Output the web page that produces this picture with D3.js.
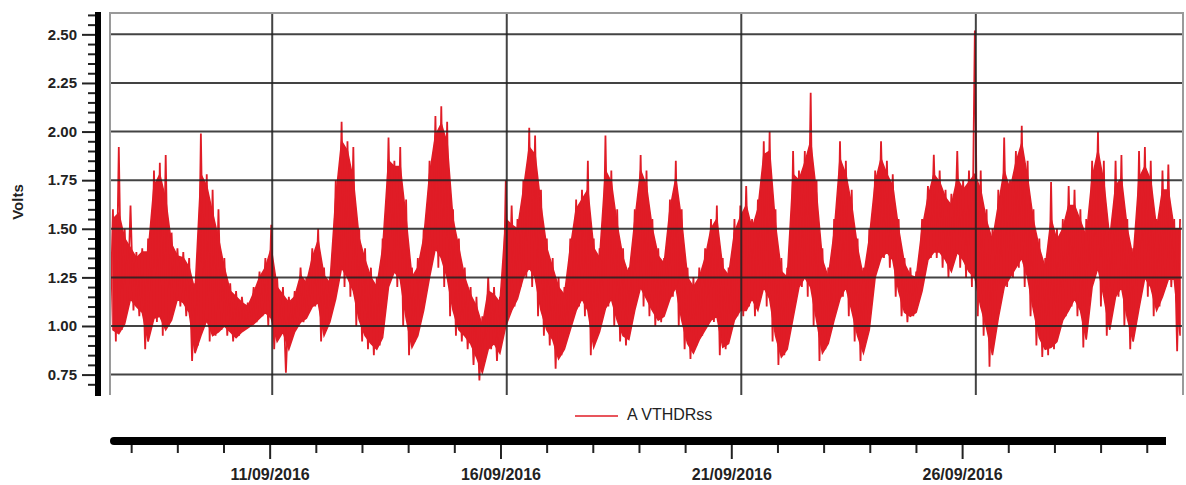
<!DOCTYPE html>
<html>
<head>
<meta charset="utf-8">
<script src="https://cdn.jsdelivr.net/npm/d3@7"></script>
<style>
  body { margin: 0; background: #fff; }
  svg { display: block; font-family: "Liberation Sans", Arial, sans-serif; }
</style>
</head>
<body>
<svg id="chart" width="1186" height="485"></svg>
<script>
// Time range shown on the chart
const startTime = new Date(2016, 8, 7, 13, 0);
const endTime = new Date(2016, 8, 30, 10, 0);
const stepHours = 3; // values are read per 3-hour block

// Peak value in each 3-hour block
const hiVals = [
  1.60, 1.92, 1.50, 1.62,                          // 07/09
  1.38, 1.40, 1.45, 1.80, 1.84, 1.88, 1.48, 1.40,  // 08/09
  1.38, 1.35, 1.22, 1.99, 1.78, 1.70, 1.60, 1.35,  // 09/09
  1.22, 1.18, 1.15, 1.12, 1.20, 1.28, 1.35, 1.52,  // 10/09
  1.25, 1.20, 1.15, 1.18, 1.30, 1.25, 1.40, 1.50,  // 11/09
  1.30, 1.25, 1.75, 2.05, 1.95, 1.92, 1.50, 1.40,  // 12/09
  1.30, 1.25, 1.45, 1.97, 1.85, 1.92, 1.65, 1.30,  // 13/09
  1.35, 1.50, 1.85, 2.08, 2.13, 2.05, 1.60, 1.45,  // 14/09
  1.30, 1.20, 1.15, 1.05, 1.25, 1.20, 1.15, 1.75,  // 15/09
  1.62, 1.55, 1.75, 2.02, 1.98, 1.70, 1.45, 1.35,  // 16/09
  1.25, 1.20, 1.45, 1.65, 1.70, 1.85, 1.45, 1.40,  // 17/09
  1.98, 1.80, 1.60, 1.40, 1.30, 1.60, 1.88, 1.80,  // 18/09
  1.55, 1.40, 1.35, 1.65, 1.85, 1.60, 1.30, 1.25,  // 19/09
  1.30, 1.40, 1.55, 1.62, 1.35, 1.30, 1.55, 1.62,  // 20/09
  1.72, 1.55, 1.65, 1.95, 2.00, 1.60, 1.35, 1.30,  // 21/09
  1.90, 1.80, 1.90, 2.20, 1.75, 1.40, 1.30, 1.55,  // 22/09
  1.95, 1.85, 1.70, 1.45, 1.30, 1.50, 1.80, 1.95,  // 23/09
  1.85, 1.78, 1.55, 1.35, 1.30, 1.28, 1.55, 1.72,  // 24/09
  1.88, 1.80, 1.70, 1.68, 1.90, 1.75, 1.80, 2.52,  // 25/09
  1.80, 1.60, 1.50, 1.70, 1.97, 1.75, 1.90, 2.03,  // 26/09
  1.85, 1.60, 1.45, 1.35, 1.74, 1.50, 1.55, 1.72,  // 27/09
  1.70, 1.60, 1.55, 1.85, 2.00, 1.85, 1.50, 1.85,  // 28/09
  1.88, 1.55, 1.40, 1.90, 1.92, 1.85, 1.55, 1.80,  // 29/09
  1.83, 1.55, 1.55                                 // 30/09
];

// Minimum value in each 3-hour block
const loVals = [
  0.95, 0.92, 0.98, 1.12,
  1.08, 1.05, 0.88, 1.00, 1.02, 0.95, 1.00, 1.12,
  1.10, 1.05, 0.82, 0.90, 1.00, 0.92, 0.95, 0.98,
  0.95, 0.92, 0.95, 0.98, 1.00, 1.02, 1.05, 1.00,
  0.88, 0.95, 0.76, 0.95, 1.00, 1.02, 1.08, 1.10,
  0.92, 1.00, 1.10, 1.25, 1.20, 1.15, 1.00, 0.92,
  0.88, 0.85, 0.90, 1.15, 1.25, 1.20, 1.00, 0.85,
  0.92, 1.05, 1.20, 1.35, 1.30, 1.20, 1.05, 0.95,
  0.92, 0.88, 0.80, 0.72, 0.85, 0.88, 0.82, 0.95,
  1.05, 1.10, 1.20, 1.25, 1.20, 1.05, 0.95, 0.90,
  0.78, 0.85, 0.95, 1.05, 1.10, 1.05, 0.85, 0.95,
  1.05, 1.10, 1.00, 0.92, 0.90, 1.05, 1.15, 1.10,
  1.05, 1.00, 1.02, 1.10, 1.15, 1.00, 0.88, 0.83,
  0.90, 0.95, 1.00, 1.02, 0.85, 0.88, 1.00, 1.05,
  1.05, 1.10, 1.05, 1.15, 1.10, 0.92, 0.80, 0.85,
  1.00, 1.15, 1.20, 1.15, 1.00, 0.82, 0.88, 1.00,
  1.10, 1.15, 1.05, 0.92, 0.82, 0.95, 1.20, 1.30,
  1.35, 1.30, 1.15, 1.05, 1.02, 1.05, 1.15, 1.30,
  1.35, 1.35, 1.30, 1.25, 1.35, 1.30, 1.25, 1.20,
  1.05, 0.95, 0.79, 1.00, 1.15, 1.20, 1.25, 1.30,
  1.20, 1.05, 0.90, 0.84, 0.85, 0.88, 1.00, 1.05,
  1.10, 1.05, 0.89, 1.15, 1.25, 1.10, 0.95, 1.10,
  1.15, 1.00, 0.88, 1.05, 1.20, 1.15, 1.05, 1.10,
  1.20, 1.20, 0.87
];

// Top of the dense (solid) part of the trace in each block
const coreHiVals = [
  1.55, 1.58, 1.45, 1.40,
  1.35, 1.38, 1.38, 1.72, 1.78, 1.65, 1.42, 1.36,
  1.35, 1.30, 1.18, 1.78, 1.72, 1.58, 1.45, 1.30,
  1.18, 1.15, 1.12, 1.10, 1.17, 1.25, 1.30, 1.40,
  1.20, 1.16, 1.12, 1.15, 1.26, 1.22, 1.35, 1.44,
  1.26, 1.22, 1.66, 1.95, 1.90, 1.75, 1.45, 1.34,
  1.25, 1.20, 1.40, 1.85, 1.82, 1.82, 1.55, 1.25,
  1.30, 1.45, 1.78, 1.98, 2.04, 1.94, 1.55, 1.40,
  1.25, 1.16, 1.10, 1.00, 1.18, 1.16, 1.12, 1.55,
  1.52, 1.50, 1.70, 1.92, 1.88, 1.62, 1.40, 1.30,
  1.20, 1.16, 1.40, 1.60, 1.65, 1.70, 1.40, 1.35,
  1.80, 1.74, 1.52, 1.35, 1.26, 1.54, 1.80, 1.72,
  1.50, 1.36, 1.32, 1.60, 1.76, 1.54, 1.25, 1.20,
  1.25, 1.35, 1.50, 1.55, 1.30, 1.26, 1.48, 1.56,
  1.62, 1.50, 1.60, 1.88, 1.90, 1.52, 1.28, 1.25,
  1.78, 1.75, 1.84, 1.95, 1.68, 1.34, 1.25, 1.48,
  1.86, 1.78, 1.62, 1.40, 1.25, 1.45, 1.74, 1.86,
  1.78, 1.72, 1.50, 1.32, 1.26, 1.25, 1.50, 1.66,
  1.78, 1.74, 1.66, 1.62, 1.76, 1.70, 1.74, 1.78,
  1.70, 1.54, 1.44, 1.62, 1.80, 1.70, 1.84, 1.94,
  1.76, 1.54, 1.40, 1.30, 1.55, 1.44, 1.50, 1.62,
  1.62, 1.54, 1.46, 1.76, 1.90, 1.74, 1.45, 1.72,
  1.76, 1.50, 1.35, 1.76, 1.82, 1.75, 1.50, 1.70,
  1.70, 1.50, 1.50
];

// Bottom of the dense part of the trace in each block
const coreLoVals = [
  0.98, 0.96, 1.01, 1.14,
  1.10, 1.07, 0.92, 1.04, 1.05, 0.98, 1.03, 1.14,
  1.12, 1.07, 0.86, 0.95, 1.03, 0.95, 0.97, 1.00,
  0.97, 0.94, 0.97, 0.99, 1.01, 1.04, 1.07, 1.04,
  0.92, 0.97, 0.88, 0.97, 1.02, 1.04, 1.10, 1.12,
  0.95, 1.02, 1.14, 1.30, 1.25, 1.18, 1.03, 0.95,
  0.91, 0.88, 0.94, 1.20, 1.28, 1.24, 1.04, 0.89,
  0.95, 1.08, 1.25, 1.40, 1.35, 1.25, 1.08, 0.98,
  0.95, 0.91, 0.84, 0.76, 0.88, 0.91, 0.86, 1.00,
  1.08, 1.14, 1.25, 1.30, 1.25, 1.08, 0.98, 0.93,
  0.83, 0.88, 0.98, 1.08, 1.14, 1.08, 0.89, 0.97,
  1.09, 1.14, 1.03, 0.95, 0.93, 1.08, 1.20, 1.14,
  1.08, 1.03, 1.05, 1.14, 1.20, 1.03, 0.91, 0.86,
  0.93, 0.98, 1.03, 1.05, 0.89, 0.91, 1.03, 1.08,
  1.08, 1.14, 1.08, 1.20, 1.14, 0.95, 0.84, 0.88,
  1.04, 1.20, 1.25, 1.20, 1.03, 0.86, 0.91, 1.03,
  1.14, 1.20, 1.08, 0.95, 0.86, 0.98, 1.25, 1.35,
  1.38, 1.34, 1.18, 1.07, 1.05, 1.07, 1.18, 1.34,
  1.38, 1.38, 1.34, 1.28, 1.38, 1.34, 1.28, 1.25,
  1.10, 0.99, 0.85, 1.04, 1.20, 1.25, 1.30, 1.35,
  1.25, 1.08, 0.94, 0.88, 0.89, 0.92, 1.03, 1.08,
  1.14, 1.08, 0.93, 1.20, 1.30, 1.15, 0.98, 1.15,
  1.20, 1.04, 0.92, 1.09, 1.25, 1.20, 1.08, 1.15,
  1.24, 1.24, 0.95
];

const yMajor = [0.75, 1.00, 1.25, 1.50, 1.75, 2.00, 2.25, 2.50];
const dateTicks = [new Date(2016, 8, 11), new Date(2016, 8, 16), new Date(2016, 8, 21), new Date(2016, 8, 26)];
const seriesName = 'A VTHDRss';

const red = '#e01c26';
const svg = d3.select('#chart');

// plot area and the separate date axis below the legend
const plot = { left: 110, right: 1183, top: 12, bottom: 395 };

const x = d3.scaleTime().domain([startTime, endTime]).range([plot.left, plot.right]);
const xAxisScale = d3.scaleTime().domain([startTime, endTime]).range([110, 1166]);
const y = d3.scaleLinear().domain([0.645, 2.615]).range([plot.bottom, plot.top]);

const blockStart = i => d3.timeHour.offset(startTime, i * stepHours);
const blockMid = i => new Date(+blockStart(i) + stepHours * 3600 * 1000 / 2);

// Dense part as a solid band
const band = hiVals.map((d, i) => ({ t: blockMid(i), lo: coreLoVals[i], hi: coreHiVals[i] }));

// Spikes: zigzag between block minimum and block peak
const spikes = [];
hiVals.forEach((hi, i) => {
    spikes.push({ t: blockStart(i), v: loVals[i] });
    spikes.push({ t: blockMid(i), v: hi });
});

svg.append('defs').append('clipPath').attr('id', 'clip')
    .append('rect')
    .attr('x', plot.left)
    .attr('y', plot.top)
    .attr('width', plot.right - plot.left)
    .attr('height', plot.bottom - plot.top);

const dataG = svg.append('g').attr('clip-path', 'url(#clip)');

dataG.append('path')
    .datum(band)
    .attr('fill', red)
    .attr('stroke', red)
    .attr('stroke-width', 1.5)
    .attr('d', d3.area().x(d => x(d.t)).y0(d => y(d.lo)).y1(d => y(d.hi)));

dataG.append('path')
    .datum(spikes)
    .attr('fill', 'none')
    .attr('stroke', red)
    .attr('stroke-width', 1.8)
    .attr('stroke-linejoin', 'bevel')
    .attr('d', d3.line().x(d => x(d.t)).y(d => y(d.v)));

// Horizontal grid (drawn over the data, as in the original)
svg.append('g')
    .selectAll('line')
    .data(yMajor)
    .enter()
    .append('line')
    .attr('x1', plot.left)
    .attr('x2', plot.right)
    .attr('y1', d => y(d))
    .attr('y2', d => y(d))
    .attr('stroke', '#222')
    .attr('stroke-opacity', 0.85)
    .attr('stroke-width', 2);

// Vertical grid
svg.append('g')
    .selectAll('line')
    .data(dateTicks)
    .enter()
    .append('line')
    .attr('x1', d => x(d))
    .attr('x2', d => x(d))
    .attr('y1', plot.top)
    .attr('y2', plot.bottom)
    .attr('stroke', '#222')
    .attr('stroke-opacity', 0.85)
    .attr('stroke-width', 2);

// Frame: top, left, right in gray
const frame = svg.append('g').attr('stroke', '#9a9a9a').attr('stroke-width', 2).attr('fill', 'none');
frame.append('line').attr('x1', plot.left).attr('x2', plot.right).attr('y1', plot.top + 1).attr('y2', plot.top + 1);
frame.append('line').attr('x1', plot.left).attr('x2', plot.left).attr('y1', plot.top).attr('y2', plot.bottom);
frame.append('line').attr('x1', plot.right).attr('x2', plot.right).attr('y1', plot.top).attr('y2', plot.bottom);

// Y axis: thick bar with major/minor ticks
const yAxisX = 95;
const yMinor = d3.range(70, 262, 5).map(d => d / 100).filter(v => !yMajor.some(m => Math.abs(m - v) < 1e-6));

const yMinorG = svg.append('g')
    .attr('transform', `translate(${yAxisX},0)`)
    .call(d3.axisLeft(y).tickValues(yMinor).tickSize(7).tickFormat(''));
const yMajorG = svg.append('g')
    .attr('transform', `translate(${yAxisX},0)`)
    .call(d3.axisLeft(y).tickValues(yMajor).tickSize(13).tickPadding(5).tickFormat(d3.format('.2f')));

[yMinorG, yMajorG].forEach(g => {
    g.select('.domain').remove();
    g.selectAll('.tick line').attr('stroke', '#222').attr('stroke-width', 2);
});
yMajorG.selectAll('.tick text')
    .attr('fill', '#222')
    .style('font-size', '15px')
    .style('font-weight', 'bold');

svg.append('line')
    .attr('x1', 98).attr('x2', 98)
    .attr('y1', plot.top).attr('y2', plot.bottom + 1)
    .attr('stroke', '#000')
    .attr('stroke-width', 6);

// Y title
svg.append('text')
    .attr('transform', 'translate(23,202) rotate(-90)')
    .attr('text-anchor', 'middle')
    .attr('fill', '#222')
    .style('font-size', '15px')
    .style('font-weight', 'bold')
    .text('Volts');

// Legend
svg.append('line')
    .attr('x1', 575).attr('x2', 618)
    .attr('y1', 416).attr('y2', 416)
    .attr('stroke', red)
    .attr('stroke-width', 1.5);
svg.append('text')
    .attr('x', 627)
    .attr('y', 420)
    .attr('fill', '#222')
    .style('font-size', '16px')
    .text(seriesName);

// Bottom date axis
const axisY = 445;
const days = d3.timeDay.range(d3.timeDay.ceil(startTime), endTime);
const minorDays = days.filter(d => !dateTicks.some(m => +m === +d));

const xMinorG = svg.append('g')
    .attr('transform', `translate(0,${axisY})`)
    .call(d3.axisBottom(xAxisScale).tickValues(minorDays).tickSize(8).tickFormat(''));
const xMajorG = svg.append('g')
    .attr('transform', `translate(0,${axisY})`)
    .call(d3.axisBottom(xAxisScale).tickValues(dateTicks).tickSize(14).tickPadding(10)
        .tickFormat(d3.timeFormat('%d/%m/%Y')));

[xMinorG, xMajorG].forEach(g => {
    g.select('.domain').remove();
    g.selectAll('.tick line').attr('stroke', '#222').attr('stroke-width', 2);
});
xMajorG.selectAll('.tick text')
    .attr('fill', '#222')
    .style('font-size', '16px')
    .style('font-weight', 'bold');

// thick bar, rounded on the left end only
svg.append('line')
    .attr('x1', 114).attr('x2', 1150)
    .attr('y1', 441).attr('y2', 441)
    .attr('stroke', '#000')
    .attr('stroke-width', 8)
    .attr('stroke-linecap', 'round');
svg.append('line')
    .attr('x1', 1140).attr('x2', 1166)
    .attr('y1', 441).attr('y2', 441)
    .attr('stroke', '#000')
    .attr('stroke-width', 8);
</script>
</body>
</html>
